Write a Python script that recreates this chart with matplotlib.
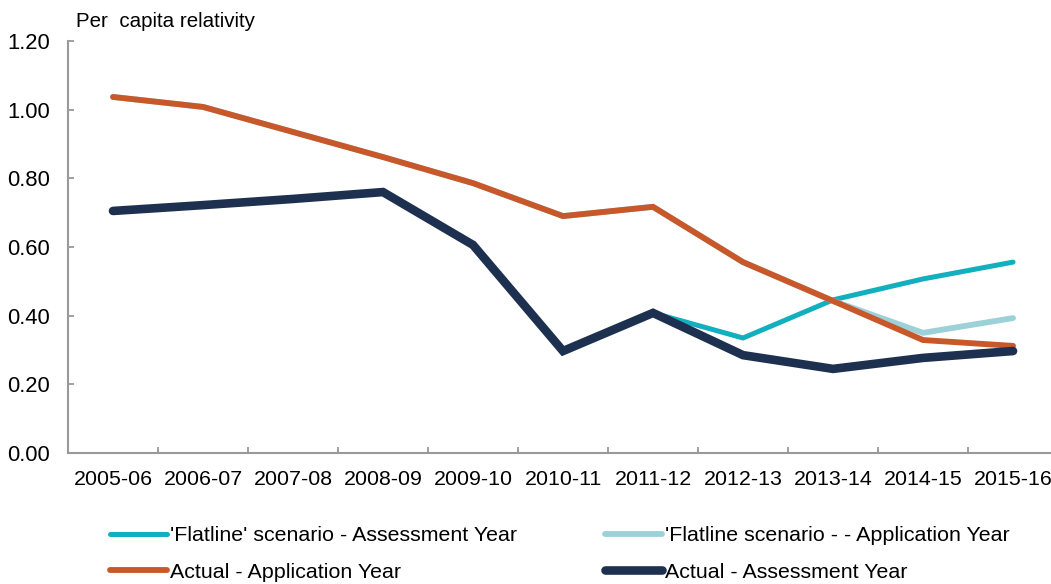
import matplotlib.pyplot as plt
import numpy as np

plt.rcParams['font.family'] = ['Liberation Sans', 'DejaVu Sans']

years = ['2005-06', '2006-07', '2007-08', '2008-09', '2009-10', '2010-11',
         '2011-12', '2012-13', '2013-14', '2014-15', '2015-16']

actual_assess = [0.705, 0.722, 0.740, 0.760, 0.606, 0.297, 0.408, 0.285, 0.245, 0.277, 0.297]
actual_app = [1.037, 1.008, 0.935, 0.862, 0.786, 0.690, 0.717, 0.556, 0.443, 0.329, 0.312]
flat_assess = [0.705, 0.722, 0.740, 0.760, 0.606, 0.297, 0.408, 0.335, 0.446, 0.507, 0.556]
flat_app = [1.037, 1.008, 0.935, 0.862, 0.786, 0.690, 0.717, 0.556, 0.443, 0.350, 0.393]

c_teal = '#12AFBE'
c_light = '#9DD1DA'
c_orange = '#C8572A'
c_navy = '#1E3050'

fig = plt.figure(figsize=(10.51, 5.84), dpi=100)
ax = fig.add_axes([0.0647, 0.2243, 0.942, 0.7055])

x = np.arange(len(years))
l1, = ax.plot(x, flat_assess, color=c_teal, lw=3.6, solid_capstyle='round', solid_joinstyle='miter',
              label="'Flatline' scenario - Assessment Year")
l2, = ax.plot(x, flat_app, color=c_light, lw=4.2, solid_capstyle='round', solid_joinstyle='miter',
              label="'Flatline scenario - - Application Year")
l3, = ax.plot(x, actual_app, color=c_orange, lw=4.2, solid_capstyle='round', solid_joinstyle='miter',
              label='Actual - Application Year')
l4, = ax.plot(x, actual_assess, color=c_navy, lw=6.2, solid_capstyle='round', solid_joinstyle='miter',
              label='Actual - Assessment Year')

ax.set_xlim(-0.5, len(years) - 0.5)
ax.set_ylim(0, 1.2)
ax.set_yticks(np.arange(0, 1.21, 0.2))
ax.set_yticklabels(['%.2f' % v for v in np.arange(0, 1.21, 0.2)], fontsize=15.8)
ax.set_xticks(x)
ax.set_xticklabels(years, fontsize=15.4)
ax.set_xticks(np.arange(0.5, len(years) - 1, 1), minor=True)
ax.tick_params(axis='x', which='major', length=0, pad=12)
ax.tick_params(axis='x', which='minor', direction='in', length=4, color='#999999', width=1.3)
ax.tick_params(axis='y', direction='in', length=4, color='#999999', width=1.3, pad=13)

for s in ['top', 'right']:
    ax.spines[s].set_visible(False)
for s in ['left', 'bottom']:
    ax.spines[s].set_color('#999999')
    ax.spines[s].set_linewidth(1.5)

fig.text(0.072, 0.963, 'Per  capita relativity', fontsize=14.8, va='center', ha='left')

leg_kw = dict(loc='center left', frameon=False, fontsize=15.4, handlelength=2.66,
              handletextpad=0.14, labelspacing=0.8, borderpad=0, borderaxespad=0)
fig.legend(handles=[l1, l3], bbox_to_anchor=(110 / 1051, 1 - 554 / 584), **leg_kw)
fig.legend(handles=[l2, l4], bbox_to_anchor=(605 / 1051, 1 - 554 / 584), **leg_kw)

fig.savefig('out.png', dpi=100)
